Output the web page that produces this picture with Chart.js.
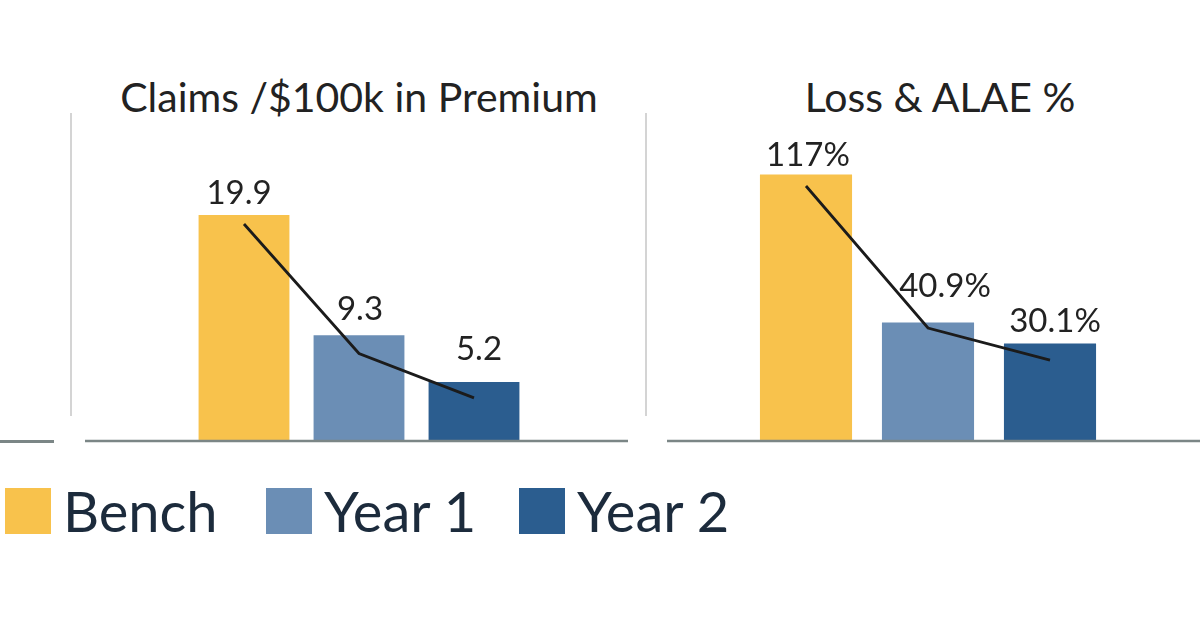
<!DOCTYPE html>
<html>
<head>
<meta charset="utf-8">
<script src="https://cdn.jsdelivr.net/npm/chart.js@4.4.1/dist/chart.umd.min.js"></script>
<style>
  html, body { margin: 0; padding: 0; background: #ffffff; }
  body { width: 1200px; height: 630px; position: relative; overflow: hidden; font-family: Lato, "Noto Sans", sans-serif; }
  .box { position: absolute; }
  .title { position: absolute; font-size: 41px; line-height: 41px; color: #222222; text-align: center; white-space: nowrap; }
  .vline { position: absolute; width: 2px; background: #d4d4d4; }
  .hline { position: absolute; height: 2.5px; background: #7b8686; }
  .sw { position: absolute; width: 46px; height: 46px; }
  .lt { position: absolute; font-size: 56px; line-height: 56px; color: #1c2b3c; white-space: nowrap; }
</style>
</head>
<body>
<div class="vline" style="left:69.5px; top:113px; height:303px;"></div>
<div class="vline" style="left:644.5px; top:113px; height:303px;"></div>
<div class="hline" style="left:0px; top:440px; width:54px;"></div>

<div class="title" id="t1" style="left:109px; width:500px; top:76px;"></div>
<div class="title" id="t2" style="left:690px; width:500px; top:76px;"></div>

<div class="box" style="left:85px; top:0px; width:543px; height:450px;"><canvas id="c1"></canvas></div>
<div class="box" style="left:667px; top:0px; width:533px; height:450px;"><canvas id="c2"></canvas></div>

<div id="legend"></div>

<script>
// ---- data ----
const categories = ["Bench", "Year 1", "Year 2"];
const colors = ["#F8C24C", "#6B8EB5", "#2B5D8F"];

const claimsTitle = "Claims /$100k in Premium";
const claimsValues = [19.9, 9.3, 5.2];
const claimsLabels = ["19.9", "9.3", "5.2"];
const claimsTrend = [19.1, 7.7, 3.8];

const lossTitle = "Loss & ALAE %";
const lossValues = [117, 40.9, 30.1];
const lossLabels = ["117%", "40.9%", "30.1%"];
const lossTrend = [111.1, 38.1, 21.6];

document.getElementById('t1').textContent = claimsTitle;
document.getElementById('t2').textContent = lossTitle;

// legend (HTML, built from the category and colour arrays)
const legendLeft = [5, 266, 519];
const legendTextLeft = [63, 324, 577];
const lg = document.getElementById('legend');
categories.forEach((c, i) => {
  const s = document.createElement('div');
  s.className = 'sw';
  s.style.left = legendLeft[i] + 'px';
  s.style.top = '488px';
  s.style.background = colors[i];
  lg.appendChild(s);
  const t = document.createElement('div');
  t.className = 'lt';
  t.style.left = legendTextLeft[i] + 'px';
  t.style.top = '483px';
  t.textContent = c;
  lg.appendChild(t);
});

// plugins
const baselinePlugin = {
  id: 'baseline',
  afterDatasetsDraw(chart) {
    const ctx = chart.ctx;
    const y = chart.scales.y.getPixelForValue(chart.scales.y.min);
    ctx.save();
    ctx.strokeStyle = '#7b8686';
    ctx.lineWidth = 2.5;
    ctx.beginPath();
    ctx.moveTo(0, y);
    ctx.lineTo(chart.width, y);
    ctx.stroke();
    ctx.restore();
  }
};

const valueLabelPlugin = {
  id: 'valueLabels',
  afterDraw(chart, args, opts) {
    const idx = chart.data.datasets.findIndex(d => d.type === 'bar');
    const meta = chart.getDatasetMeta(idx);
    const ctx = chart.ctx;
    ctx.save();
    ctx.font = '33px Lato, "Noto Sans", sans-serif';
    ctx.fillStyle = '#222222';
    ctx.textAlign = 'center';
    ctx.textBaseline = 'alphabetic';
    meta.data.forEach((bar, i) => {
      ctx.fillText(opts.labels[i], bar.x + opts.dx[i], bar.y - 11 - opts.dy[i]);
    });
    ctx.restore();
  }
};

function build(id, values, trend, labels, yMin, yMax, pad, barPct, dx, dy) {
  return new Chart(document.getElementById(id), {
    data: {
      labels: categories,
      datasets: [
        {
          type: 'line',
          data: trend,
          borderColor: '#1b1b1b',
          borderWidth: 2.8,
          pointRadius: 0,
          tension: 0,
          order: 0
        },
        {
          type: 'bar',
          data: values,
          backgroundColor: colors,
          borderWidth: 0,
          base: yMin,
          categoryPercentage: 1,
          barPercentage: barPct,
          order: 1
        }
      ]
    },
    options: {
      responsive: true,
      maintainAspectRatio: false,
      animation: false,
      layout: { padding: pad },
      plugins: {
        legend: { display: false },
        tooltip: { enabled: false },
        valueLabels: { labels: labels, dx: dx, dy: dy }
      },
      scales: {
        x: { display: false, offset: true },
        y: { display: false, min: yMin, max: yMax }
      }
    },
    plugins: [baselinePlugin, valueLabelPlugin]
  });
}

build('c1', claimsValues, claimsTrend, claimsLabels, 0, 25,
  { left: 101.5, right: 96.5, top: 157, bottom: 9 }, 0.79, [-5, 1, 5], [0, 4, 11]);
build('c2', lossValues, lossTrend, lossLabels, -20, 126,
  { left: 78, right: 89, top: 157, bottom: 9 }, 0.755, [2, 17, 5], [-2, 15, 1]);
</script>
</body>
</html>
